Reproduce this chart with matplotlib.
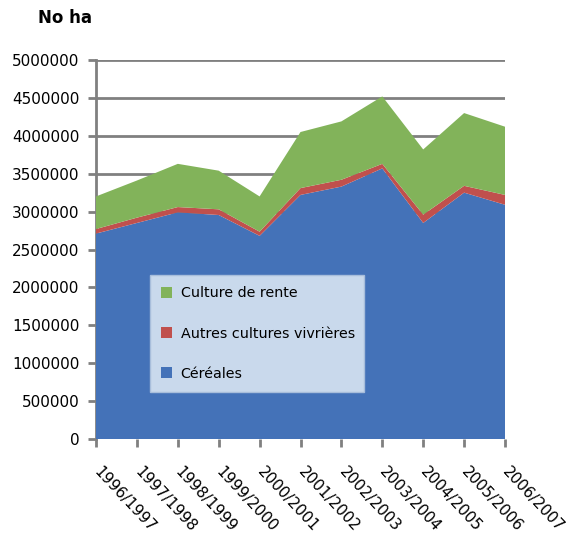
import numpy as np
import matplotlib.pyplot as plt

# surfaces cultivees par campagne (ha)
campagnes = ['1996/1997', '1997/1998', '1998/1999', '1999/2000', '2000/2001',
             '2001/2002', '2002/2003', '2003/2004', '2004/2005', '2005/2006',
             '2006/2007']
cereales = [2710000, 2850000, 2990000, 2955000, 2680000, 3220000,
            3330000, 3570000, 2850000, 3250000, 3090000]
autres_vivrieres = [60000, 70000, 70000, 75000, 55000, 90000,
                    90000, 60000, 110000, 90000, 130000]
culture_rente = [430000, 490000, 570000, 510000, 465000, 740000,
                 770000, 890000, 860000, 960000, 900000]
yticks = [0, 500000, 1000000, 1500000, 2000000, 2500000,
          3000000, 3500000, 4000000, 4500000, 5000000]

c_bleu = '#4472b8'
c_rouge = '#c0504d'
c_vert = '#82b35a'

fig = plt.figure(figsize=(5.72, 5.37), dpi=100)
ax = fig.add_axes([96/572, 98/537, 409/572, 379/537])

x = np.arange(len(campagnes))
polys = ax.stackplot(x, cereales, autres_vivrieres, culture_rente,
                     colors=[c_bleu, c_rouge, c_vert],
                     labels=['Céréales', 'Autres cultures vivrières',
                             'Culture de rente'],
                     zorder=3)

ax.set_xlim(0, len(campagnes) - 1)
ax.set_ylim(0, 5000000)
ax.set_yticks(yticks)
ax.set_yticklabels([str(v) for v in yticks], fontsize=11)
ax.yaxis.grid(True, color='#808080', linewidth=2, zorder=1)
ax.set_axisbelow(True)

ax.set_xticks(x)
ax.set_xticklabels(campagnes, fontsize=11, rotation=-47, ha='left',
                   va='center', rotation_mode='anchor')
ax.tick_params(axis='x', length=6, width=2, color='#808080', pad=16)
ax.tick_params(axis='y', length=6, width=2, color='#808080', pad=6)

for s in ['top', 'right', 'bottom']:
    ax.spines[s].set_visible(False)
ax.spines['left'].set_color('#808080')
ax.spines['left'].set_linewidth(2)

handles, labels = ax.get_legend_handles_labels()
leg = ax.legend(handles[::-1], labels[::-1], loc='lower left',
                bbox_to_anchor=(0.132, 0.124, 0.523, 0.317), mode='expand',
                borderaxespad=0, fontsize=10.3, labelspacing=1.82,
                handlelength=0.75, handleheight=0.75, handletextpad=0.6,
                borderpad=0.8, fancybox=False, framealpha=1)
leg.get_frame().set_facecolor('#c9d9ec')
leg.get_frame().set_edgecolor('#a8bedb')
leg.set_zorder(5)

fig.text(38/572, 1 - 18/537, 'No ha', fontsize=12, fontweight='bold',
         va='center', ha='left')

fig.savefig('out.png', dpi=100)
